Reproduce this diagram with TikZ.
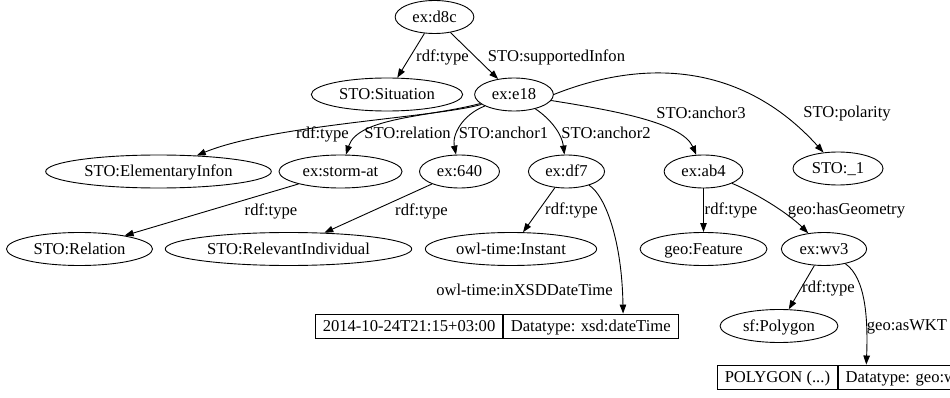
\documentclass[tikz,border=0pt]{standalone}
\usepackage{fontspec}
\setmainfont{Liberation Serif}
\usetikzlibrary{arrows.meta,shapes.geometric}

\begin{document}
\begin{tikzpicture}[x=1pt,y=-1pt,
  every node/.style={font=\fontsize{16.6}{20}\selectfont, text height=11pt, text depth=0pt},
  res/.style={draw, ellipse, line width=0.9pt, inner xsep=5.7pt, inner ysep=1pt, minimum height=33pt},
  lit/.style={draw, rectangle, line width=0.9pt, inner xsep=7.3pt, inner ysep=0pt, minimum height=24pt, anchor=west},
  lbl/.style={inner sep=0pt},
  edge/.style={draw, line width=0.9pt, -{Triangle[length=9pt,width=6.5pt]}}
]
\useasboundingbox (0,0) rectangle (950,398);
\clip (0,0) rectangle (950,398);

% resources
\node[res] (d8c)    at (434.5,17)    {ex:d8c};
\node[res] (sit)    at (387,94.5)    {STO:Situation};
\node[res] (e18)    at (514,94.5)    {ex:e18};
\node[res] (elem)   at (158.5,171.5) {STO:ElementaryInfon};
\node[res] (storm)  at (340.5,171.5) {ex:storm-at};
\node[res] (n640)   at (459.5,171.5) {ex:640};
\node[res] (df7)    at (566.5,171.5) {ex:df7};
\node[res] (ab4)    at (703.5,171.5) {ex:ab4};
\node[res] (one)    at (838,168.5)   {STO:\_1};
\node[res] (rel)    at (79.5,249)    {STO:Relation};
\node[res] (relind) at (288.5,249)   {STO:RelevantIndividual};
\node[res] (inst)   at (511,249)     {owl-time:Instant};
\node[res] (feat)   at (703.5,249)   {geo:Feature};
\node[res] (wv3)    at (824,249)     {ex:wv3};
\node[res] (poly)   at (779,326)     {sf:Polygon};

% literals (value | datatype)
\node[lit] (date)    at (315,326)    {2014-10-24T21:15+03:00};
\node[lit] (dtype)   at (date.east)  {Datatype: xsd:dateTime};
\node[lit] (wktval)  at (717,377)    {POLYGON (...)};
\node[lit] (wkttype) at (wktval.east) {Datatype: geo:wktLiteral};
\coordinate (dtin)  at ([xshift=120pt]dtype.north west);
\coordinate (wktin) at ([xshift=28.5pt]wkttype.north west);

% edges
\draw[edge] (d8c) -- (sit);
\draw[edge] (d8c) -- (e18);
\draw[edge] (e18) .. controls (440,117) and (270,125) .. (elem);
\draw[edge] (e18) .. controls (430,117) and (358,117) .. (storm);
\draw[edge] (e18) .. controls (462,115) and (452,135) .. (n640);
\draw[edge] (e18) .. controls (552,120) and (562,135) .. (df7);
\draw[edge] (e18) .. controls (610,110) and (682,122) .. (ab4);
\draw[edge] (e18.east) .. controls (640,60) and (740,60) .. (one);
\draw[edge] (storm) -- (rel);
\draw[edge] (n640) -- (relind);
\draw[edge] (df7) -- (inst);
\draw[edge] (df7) .. controls (605,195) and (622,240) .. (dtin);
\draw[edge] (ab4) -- (feat);
\draw[edge] (ab4) .. controls (760,195) and (790,215) .. (wv3);
\draw[edge] (wv3) -- (poly);
\draw[edge] (wv3) .. controls (866,278) and (868,320) .. (wktin);

% edge labels
\node[lbl] (l1)  at (442.5,56)  {rdf:type};
\node[lbl] (l2)  at (556.5,56)  {STO:supportedInfon};
\node[lbl] (l3)  at (322.5,133) {rdf:type};
\node[lbl] (l4)  at (407.5,133) {STO:relation};
\node[lbl] (l5)  at (503.5,133) {STO:anchor1};
\node[lbl] (l6)  at (606,133)   {STO:anchor2};
\node[lbl] (l7)  at (701,113)   {STO:anchor3};
\node[lbl] (l8)  at (847,112)   {STO:polarity};
\node[lbl] (l9)  at (271,210)   {rdf:type};
\node[lbl] (l10) at (421.5,210) {rdf:type};
\node[lbl] (l11) at (571.5,209) {rdf:type};
\node[lbl] (l12) at (731,209)   {rdf:type};
\node[lbl] (l13) at (846.5,209) {geo:hasGeometry};
\node[lbl] (l14) at (524.5,290) {owl-time:inXSDDateTime};
\node[lbl] (l15) at (828.5,287) {rdf:type};
\node[lbl] (l16) at (907,325)   {geo:asWKT};
\end{tikzpicture}
\end{document}
